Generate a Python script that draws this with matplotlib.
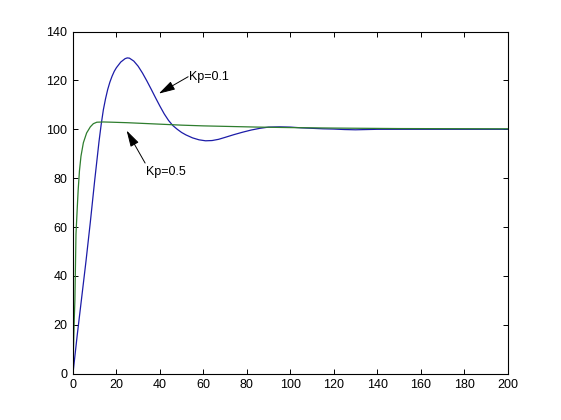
"""Step response for two Kp values, MATLAB-style figure."""

import matplotlib
matplotlib.use("Agg")
import matplotlib.pyplot as plt

# Kp = 0.1 response (blue)
t_kp01 = [0, 1, 2, 4, 6, 8, 10, 12, 13, 14, 15, 16, 17, 18, 19, 20, 22, 24,
          25, 26, 28, 30, 32, 34, 36, 38, 40, 42, 44, 46, 48, 50, 52, 55, 58,
          61, 64, 67, 70, 74, 78, 82, 86, 90, 95, 100, 105, 110, 115, 120,
          125, 130, 135, 140, 160, 180, 200]
y_kp01 = [0, 8, 16, 31, 46, 62, 79, 95, 102, 108, 112.5, 116.3, 119.3, 121.7,
          123.7, 125.2, 127.5, 128.9, 129.2, 129.1, 127.9, 125.8, 123, 119.8,
          116.4, 112.9, 109.5, 106.3, 103.6, 101.5, 100, 98.7, 97.7, 96.5,
          95.7, 95.3, 95.4, 95.9, 96.7, 97.8, 98.8, 99.7, 100.4, 100.9, 101,
          100.9, 100.6, 100.4, 100.2, 100.1, 99.9, 99.8, 99.9, 100, 100, 100,
          100]

# Kp = 0.5 response (green)
t_kp05 = [0, 0.3, 0.6, 0.9, 1.4, 2, 2.4, 3, 3.7, 4.8, 6.3, 8, 9.4, 11, 14,
          18, 25, 30, 40, 50, 60, 70, 85, 100, 120, 150, 200]
y_kp05 = [0, 12, 22, 30, 57, 68, 75, 83, 89, 94.5, 98.5, 101, 102.3, 102.9,
          103, 102.9, 102.7, 102.5, 102.1, 101.7, 101.4, 101.2, 100.9, 100.7,
          100.5, 100.3, 100.2]

x_ticks = list(range(0, 201, 20))
y_ticks = list(range(0, 141, 20))


def main():
    plt.rcParams["font.family"] = ["Liberation Sans", "DejaVu Sans"]
    fig = plt.figure(figsize=(5.61, 4.2), dpi=100)
    ax = fig.add_axes([0.13, 0.11, 0.775, 0.815])

    ax.plot(t_kp01, y_kp01, color="#1c1ca8", lw=0.9)
    ax.plot(t_kp05, y_kp05, color="#2e7d2e", lw=0.9)

    ax.set_xlim(0, 200)
    ax.set_ylim(0, 140)
    ax.set_xticks(x_ticks)
    ax.set_yticks(y_ticks)
    ax.tick_params(direction="in", top=True, right=True, length=3.5,
                   width=0.7, labelsize=9, pad=4)
    for sp in ax.spines.values():
        sp.set_linewidth(0.8)

    arrow = dict(arrowstyle="-|>,head_length=0.5,head_width=0.14", color="k",
                 lw=0.7, mutation_scale=20, shrinkA=0, shrinkB=0)
    ax.annotate("", xy=(39.5, 114.6), xytext=(53, 121.5), arrowprops=arrow)
    ax.text(53.3, 121.3, "Kp=0.1", fontsize=9, ha="left", va="center")
    ax.annotate("", xy=(24.7, 99.5), xytext=(33.2, 86.2), arrowprops=arrow)
    ax.text(33.6, 82.5, "Kp=0.5", fontsize=9, ha="left", va="center")

    fig.savefig("out.png", dpi=100)


if __name__ == "__main__":
    main()
